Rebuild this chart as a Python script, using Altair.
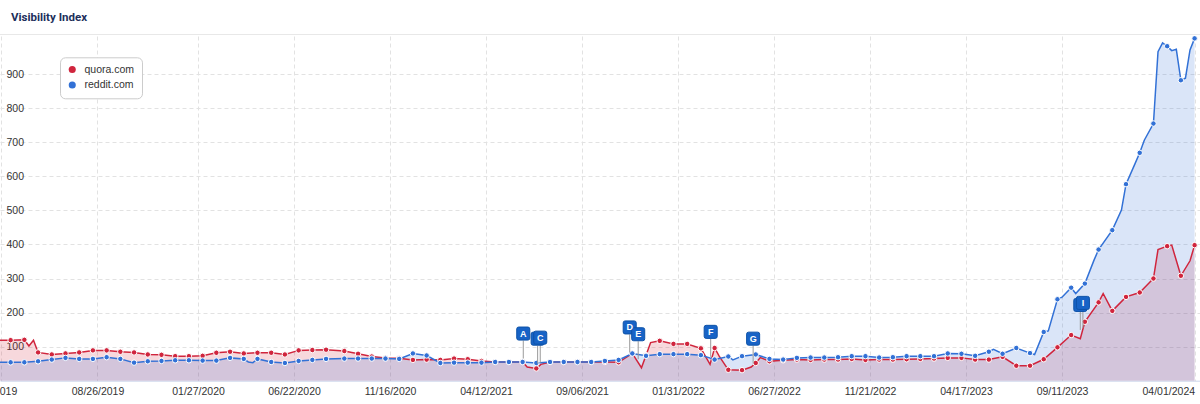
import altair as alt
import pandas as pd

TITLE = "Visibility Index"
SERIES = ["quora.com", "reddit.com"]
COLORS = ["#d0253d", "#3271d6"]
FONT = "Liberation Sans, Arial, sans-serif"

# sampling calendar of the visible markers (every third weekly value)
MARKER_DATES = [d.strftime("%Y-%m-%d") for d in
                list(pd.date_range("2019-04-15", "2020-08-10", freq="21D")) +
                list(pd.date_range("2020-09-07", "2024-04-01", freq="21D"))]

QUORA_MARKERS = [
    119, 120, 83, 77, 80, 83, 89, 89, 85, 83,
    77, 76, 72, 72, 73, 82, 85, 80, 82, 82,
    77, 89, 90, 91,
    87, 79, 71, 67, 66, 61, 62, 61, 65, 63,
    58, 55, 55, 55, 36, 55, 55, 55, 55, 55,
    54, 80, 75, 117, 108, 108, 95, 96, 32, 31,
    52, 57, 60, 62, 61, 62, 62, 64, 61, 62,
    62, 63, 64, 65, 67, 67, 62, 62, 70, 44,
    44, 63, 98, 134, 173, 230, 205, 246, 259, 300,
    395, 308, 398]

REDDIT_MARKERS = [
    54, 54, 57, 62, 67, 64, 64, 69, 64, 53,
    57, 58, 60, 60, 59, 59, 67, 64, 64, 55,
    52, 58, 61, 64,
    65, 65, 65, 65, 64, 80, 74, 52, 53, 53,
    53, 55, 55, 55, 52, 55, 55, 55, 55, 58,
    61, 80, 73, 78, 78, 78, 75, 62, 71, 72,
    77, 64, 62, 67, 68, 68, 69, 72, 72, 68,
    69, 72, 72, 72, 80, 79, 73, 85, 79, 96,
    81, 143, 239, 273, 285, 385, 442, 577, 669, 755,
    982, 882, 1005]

# weekly values between markers where the line visibly bends
QUORA_EXTRA_DATES = ["2019-03-25", "2019-05-13", "2019-05-20", "2021-06-14", "2021-07-05",
                     "2021-12-06", "2021-12-20", "2022-03-21", "2022-04-04", "2022-05-23",
                     "2022-06-06", "2023-10-09", "2023-11-13", "2024-02-05", "2024-02-26",
                     "2024-03-25"]
QUORA_EXTRA_VALUES = [119, 102, 119, 40, 48, 38, 112, 48, 72, 40, 68, 123, 256, 385, 398, 352]

REDDIT_EXTRA_DATES = ["2019-03-25", "2020-04-13", "2020-04-20", "2022-04-25", "2023-05-29",
                      "2023-07-31", "2023-08-21", "2023-09-11", "2023-10-02", "2023-10-30",
                      "2023-12-11", "2024-01-01", "2024-01-15", "2024-02-05", "2024-02-12",
                      "2024-02-26", "2024-03-04", "2024-03-18", "2024-03-25"]
REDDIT_EXTRA_VALUES = [54, 55, 53, 61, 92, 77, 146, 245, 256, 354, 501, 638, 706, 966, 992,
                       969, 973, 888, 971]

FLAG_LETTERS = ["A", "B", "C", "D", "E", "F", "G", "H", "I"]
FLAG_DATES = ["2021-06-08", "2021-06-30", "2021-07-04", "2021-11-18", "2021-12-01",
              "2022-03-22", "2022-05-26", "2023-10-09", "2023-10-13"]
FLAG_VALUES = [65, 50, 53, 83, 63, 70, 50, 149, 155]
HIDDEN_FLAGS = ["B", "H"]  # flags fully covered by a neighbouring flag (letter not visible)

TICK_DATES = ["2019-04-01", "2019-08-26", "2020-01-27", "2020-06-22", "2020-11-16",
              "2021-04-12", "2021-09-06", "2022-01-31", "2022-06-27", "2022-11-21",
              "2023-04-17", "2023-09-11", "2024-04-01"]
Y_TICKS = [100, 200, 300, 400, 500, 600, 700, 800, 900]


def dt(s, h=0):
    y, m, d = map(int, s.split("-"))
    return alt.DateTime(year=y, month=m, date=d, hours=h, utc=True)


def series_df(dates, values, name):
    return pd.DataFrame({"date": dates, "value": values, "series": name})


quora_line = pd.concat([series_df(MARKER_DATES, QUORA_MARKERS, SERIES[0]),
                        series_df(QUORA_EXTRA_DATES, QUORA_EXTRA_VALUES, SERIES[0])]).sort_values("date")
reddit_line = pd.concat([series_df(MARKER_DATES, REDDIT_MARKERS, SERIES[1]),
                         series_df(REDDIT_EXTRA_DATES, REDDIT_EXTRA_VALUES, SERIES[1])]).sort_values("date")
markers = pd.concat([series_df(MARKER_DATES, QUORA_MARKERS, SERIES[0]),
                     series_df(MARKER_DATES, REDDIT_MARKERS, SERIES[1])])
flags = pd.DataFrame({"date": FLAG_DATES, "value": FLAG_VALUES, "letter": FLAG_LETTERS})
flags["back"] = flags["letter"].isin(HIDDEN_FLAGS)

GRID = "#e2e2e2"
X = alt.X(
    "date:T", title=None,
    scale=alt.Scale(domain=[dt("2019-03-29", 17), dt("2024-04-09", 7)]),
    axis=alt.Axis(
        values=[dt(s) for s in TICK_DATES],
        labelExpr="utcFormat(datum.value, '%m/%d/%Y')",
        labelAlign={"condition": {"test": "datum.value >= 1706745600000", "value": "right"},
                    "value": "center"},
        labelOffset={"condition": {"test": "datum.value < 1556668800000", "value": -11},
                     "value": 0},
        labelOverlap=False, labelBound=False, labelFont=FONT, labelFontSize=10.5,
        labelColor="#333333", labelPadding=6, ticks=False, tickSize=0,
        domain=True, domainColor="#ccd6eb",
        grid=True, gridColor=GRID, gridDash=[4, 3],
    ),
)
Y = alt.Y(
    "value:Q", title=None, stack=None,
    scale=alt.Scale(domain=[0, 1012], nice=False, zero=False),
    axis=alt.Axis(
        values=Y_TICKS, labelAlign="left", labelBaseline="middle", labelPadding=-6,
        labelFont=FONT, labelFontSize=10.5, labelColor="#333333",
        ticks=False, tickSize=0, domain=False,
        grid=True, gridColor=GRID, gridDash=[4, 3],
    ),
)

sep = alt.Chart(pd.DataFrame({"k": [0]})).mark_rule(color="#e8e8e8", strokeWidth=1).encode(
    x=alt.value(0), x2=alt.value(1200), y=alt.value(-1.5))

area_q = alt.Chart(quora_line).mark_area(color=COLORS[0], opacity=0.18, clip=True).encode(X, Y)
area_r = alt.Chart(reddit_line).mark_area(color=COLORS[1], opacity=0.18, clip=True).encode(X, Y)
line_q = alt.Chart(quora_line).mark_line(color=COLORS[0], strokeWidth=1.5, clip=True).encode(X, Y)
line_r = alt.Chart(reddit_line).mark_line(color=COLORS[1], strokeWidth=1.5, clip=True).encode(X, Y)

pts = alt.Chart(markers).mark_point(
    filled=True, size=30, stroke="white", strokeWidth=1, opacity=1, clip=True
).encode(
    X, Y,
    color=alt.Color(
        "series:N", scale=alt.Scale(domain=SERIES, range=COLORS),
        legend=alt.Legend(
            orient="none", legendX=60, legendY=21.3, title=None,
            symbolType="circle", symbolSize=50, symbolStrokeWidth=0, symbolOpacity=1,
            labelFont=FONT, labelFontSize=10.5, labelColor="#333333", labelOffset=7,
            rowPadding=4.5, padding=7, fillColor="white", strokeColor="#cccccc",
            cornerRadius=5, labelLimit=200,
        ),
    ),
)

FLAG_PATH = ("M -0.7 -1 L 0.7 -1 Q 1 -1 1 -0.7 L 1 0.7 Q 1 1 0.7 1 L -0.7 1 "
             "Q -1 1 -1 0.7 L -1 -0.7 Q -1 -1 -0.7 -1 Z")
flag_base = alt.Chart(flags)
stems = flag_base.mark_rule(color="#9a9a9a", strokeWidth=1, y2Offset=-18).encode(
    X, Y, y2=alt.Y2("value:Q"))


def flag_boxes(back):
    return flag_base.transform_filter(
        f"datum.back == {'true' if back else 'false'}"
    ).mark_point(
        shape=FLAG_PATH, filled=True, size=170, fill="#1763c6", stroke="#0d52a8",
        strokeWidth=1, opacity=1, yOffset=-25
    ).encode(X, Y)


letters = flag_base.transform_filter("!datum.back").mark_text(
    color="white", font=FONT, fontWeight="bold", fontSize=9, yOffset=-25,
    align="center", baseline="middle"
).encode(X, Y, text="letter:N")

chart = alt.layer(
    sep, area_q, area_r, line_q, line_r, pts, stems,
    flag_boxes(True), flag_boxes(False), letters
).properties(
    width=1200, height=344.7,
    title=alt.TitleParams(TITLE, anchor="start", frame="group", dx=11, offset=1.5,
                          fontSize=11.5, font="Roboto", fontWeight="bold", color="#1d2f5b",
                          baseline="alphabetic"),
    padding={"left": 0, "top": 36, "right": 0, "bottom": 23.3},
    autosize=alt.AutoSizeParams(type="none"),
    background="white",
).configure_view(stroke=None)

chart.save("out.html", embed_options={"renderer": "svg", "actions": False})
